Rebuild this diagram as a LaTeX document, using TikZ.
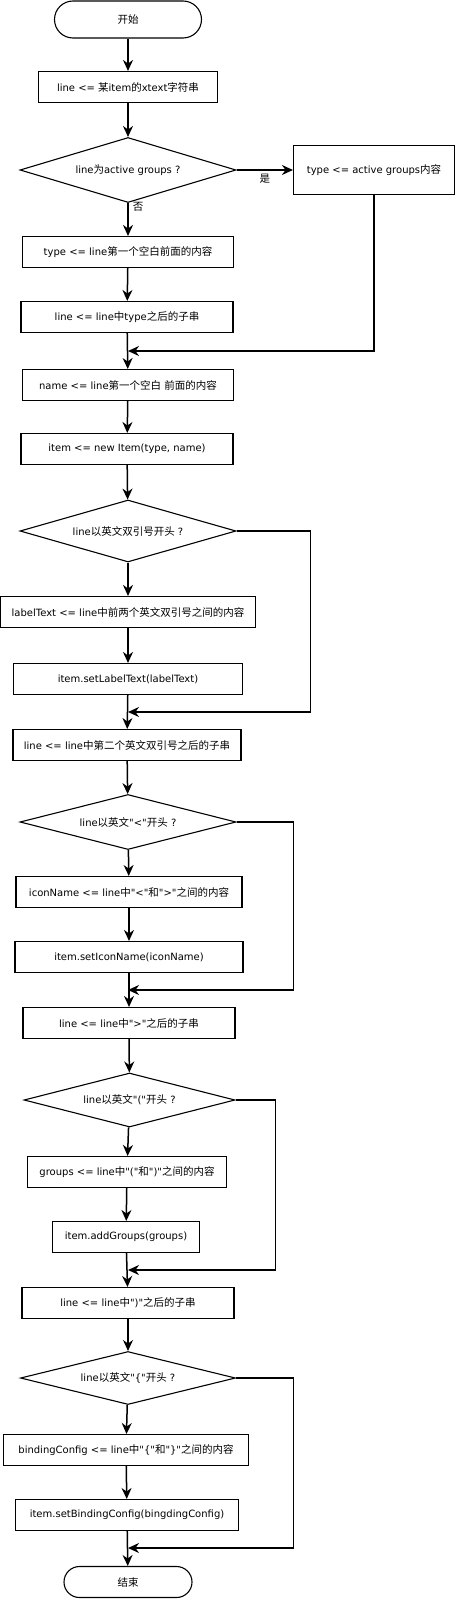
\documentclass[tikz,border=0pt]{standalone}
\usepackage{fontspec}
\newfontfamily\latin{DejaVu Sans}
\newfontfamily\cjk[Scale=1.05]{Noto Sans CJK SC}
\newcommand{\zh}[1]{{\cjk #1}}
\usetikzlibrary{shapes.geometric,arrows.meta}

\begin{document}
\begin{tikzpicture}[x=1pt, y=-1pt, >={Stealth[length=11pt,width=10pt]},
  font=\latin\fontsize{10}{12}\selectfont,
  box/.style={draw, line width=1.1pt, inner sep=0pt, minimum height=31pt},
  decision/.style={draw, diamond, aspect=4, line width=1.1pt, inner sep=0pt},
  term/.style={draw, line width=1.1pt, inner sep=0pt},
  flow/.style={->, line width=1.5pt}]
  \useasboundingbox (0,0) rectangle (455,1600);

  % start and first check
  \node[term, minimum width=147pt, minimum height=37pt, rounded corners=18.5pt] (start) at (128,19.5) {\zh{开始}};
  \node[box, minimum width=179pt] (b1) at (128,87) {line <= \zh{某}item\zh{的}xtext\zh{字符串}};
  \node[decision, minimum width=216pt, minimum height=65pt] (d1) at (128,170) {line\zh{为}active groups ?};
  \node[box, minimum width=161pt, minimum height=49pt] (act) at (374,170) {type <= active groups\zh{内容}};
  \node[box, minimum width=211pt] (b2) at (128,252) {type <= line\zh{第一个空白前面的内容}};
  \node[box, minimum width=212pt] (b3) at (127,317) {line <= line\zh{中}type\zh{之后的子串}};
  \node[box, minimum width=211pt] (b4) at (128,385) {name <= line\zh{第一个空白} \zh{前面的内容}};
  \node[box, minimum width=212pt] (b5) at (127,449) {item <= new Item(type, name)};

  % label text
  \node[decision, minimum width=216pt, minimum height=62pt] (d2) at (128,531) {line\zh{以英文双引号开头} ?};
  \node[box, minimum width=255pt] (b6) at (128,612) {labelText <= line\zh{中前两个英文双引号之间的内容}};
  \node[box, minimum width=229pt] (b7) at (128,679) {item.setLabelText(labelText)};
  \node[box, minimum width=228pt] (b8) at (127,745) {line <= line\zh{中第二个英文双引号之后的子串}};

  % icon name
  \node[decision, minimum width=216pt, minimum height=55pt] (d3) at (128,822) {line\zh{以英文}"<"\zh{开头} ?};
  \node[box, minimum width=226pt] (b9) at (129,892) {iconName <= line\zh{中}"<"\zh{和}">"\zh{之间的内容}};
  \node[box, minimum width=228pt] (b10) at (129,957) {item.setIconName(iconName)};
  \node[box, minimum width=212pt] (b11) at (129,1023) {line <= line\zh{中}">"\zh{之后的子串}};

  % groups
  \node[decision, minimum width=211pt, minimum height=54pt] (d4) at (129.5,1100) {line\zh{以英文}"("\zh{开头} ?};
  \node[box, minimum width=199pt] (b12) at (127,1172) {groups <= line\zh{中}"("\zh{和}")"\zh{之间的内容}};
  \node[box, minimum width=147pt] (b13) at (126,1237) {item.addGroups(groups)};
  \node[box, minimum width=212pt] (b14) at (128,1303) {line <= line\zh{中}")"\zh{之后的子串}};

  % binding config
  \node[decision, minimum width=215pt, minimum height=53pt] (d5) at (128,1378) {line\zh{以英文}"\{"\zh{开头} ?};
  \node[box, minimum width=245pt] (b15) at (126,1450) {bindingConfig <= line\zh{中}"\{"\zh{和}"\}"\zh{之间的内容}};
  \node[box, minimum width=223pt] (b16) at (127,1515) {item.setBindingConfig(bingdingConfig)};
  \node[term, minimum width=128pt, minimum height=31pt, rounded corners=15.5pt] (stop) at (128,1582) {\zh{结束}};

  % merge points
  \coordinate (m1) at (128,351);
  \coordinate (m2) at (128,712);
  \coordinate (m3) at (128,990);
  \coordinate (m4) at (128,1270);
  \coordinate (m5) at (128,1548);

  % main line
  \draw[flow] (start) -- (b1);
  \draw[flow] (b1) -- (d1);
  \draw[flow] (d1) -- node[pos=0.1, right, inner sep=2pt, xshift=2pt] (no) {\zh{否}} (b2);
  \draw[flow] (d1) -- node[below, inner sep=3pt] (yes) {\zh{是}} (act);
  \draw[flow] (b2) -- (b3);
  \draw[flow] (b3) -- (b4);
  \draw[flow] (b4) -- (b5);
  \draw[flow] (b5) -- (d2);
  \draw[flow] (d2) -- (b6);
  \draw[flow] (b6) -- (b7);
  \draw[flow] (b7) -- (b8);
  \draw[flow] (b8) -- (d3);
  \draw[flow] (d3) -- (b9);
  \draw[flow] (b9) -- (b10);
  \draw[flow] (b10) -- (b11);
  \draw[flow] (b11) -- (d4);
  \draw[flow] (d4) -- (b12);
  \draw[flow] (b12) -- (b13);
  \draw[flow] (b13) -- (b14);
  \draw[flow] (b14) -- (d5);
  \draw[flow] (d5) -- (b15);
  \draw[flow] (b15) -- (b16);
  \draw[flow] (b16) -- (stop);

  % side branches
  \draw[flow] (act.south) |- (m1);
  \draw[flow] (d2.east) -- ++(74,0) |- (m2);
  \draw[flow] (d3.east) -- ++(57,0) |- (m3);
  \draw[flow] (d4.east) -- ++(40,0) |- (m4);
  \draw[flow] (d5.east) -- ++(57.5,0) |- (m5);
\end{tikzpicture}
\end{document}
